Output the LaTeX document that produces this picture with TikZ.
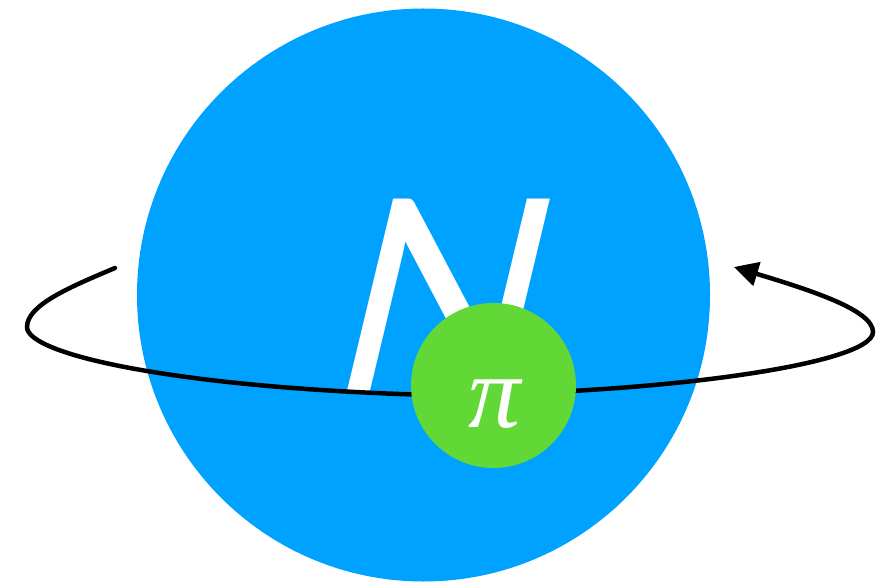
\documentclass[tikz,border=0pt]{standalone}
\usepackage{fontspec}
\usetikzlibrary{arrows.meta}
\newfontfamily\nfont{Lato}[FakeSlant=0.24]
\newfontfamily\pifont{Liberation Serif}
\definecolor{nblue}{HTML}{00A2FF}
\definecolor{pgreen}{HTML}{61D836}
\tikzset{
  ball/.style={circle, inner sep=0pt, outer sep=0pt},
  orbit/.style={line width=4.5pt, line cap=round, -{Triangle[length=24pt,width=24pt]}}
}
\begin{document}
\begin{tikzpicture}[x=1pt,y=-1pt]
\useasboundingbox (0,0) rectangle (894,583);
\node[ball, fill=nblue, minimum size=573pt] (nucleon) at (423.5,295) {};
\node[inner sep=0pt, text=white, font=\nfont\fontsize{270}{270}\selectfont] (nlabel) at (426,296) {N};
\coordinate (start) at (115,268);
\coordinate (left) at (27,327);
\coordinate (bottom) at (430,395);
\coordinate (right) at (873,332);
\coordinate (tip) at (734,267);
\draw[orbit] (start) .. controls (70,287) and (27,305) .. (left)
  .. controls (27,355) and (180,388) .. (bottom)
  .. controls (650,395) and (873,365) .. (right)
  .. controls (873,310) and (810,290) .. (tip);
\node[ball, fill=pgreen, minimum size=165pt] (pion) at (493.5,385.5) {};
\node[inner sep=0pt, text=white, font=\pifont\itshape\fontsize{104}{104}\selectfont] (plabel) at (495,404) {π};
\end{tikzpicture}
\end{document}
